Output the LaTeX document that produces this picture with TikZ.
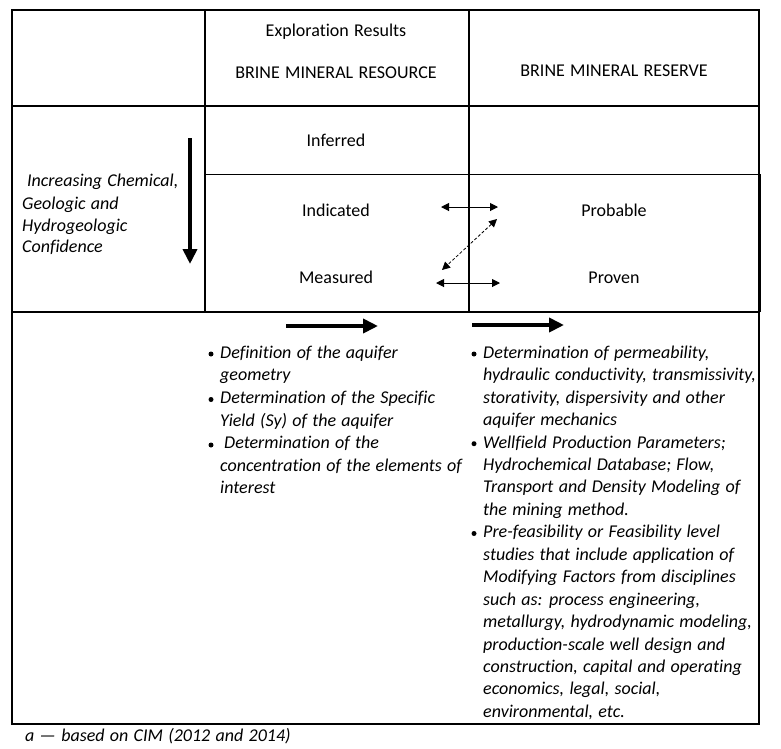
\documentclass[tikz,border=0pt]{standalone}
\usepackage{fontspec}
\setmainfont{Carlito}[Ligatures=CommonOff, WordSpace=1.3]
\usetikzlibrary{arrows.meta,positioning}

\begin{document}
\begin{tikzpicture}[x=1pt, y=-1pt,
  every node/.style={font=\fontsize{18}{22.4}\selectfont, inner sep=0pt},
  head/.style={anchor=base},
  itemtext/.style={anchor=base west, font=\fontsize{18}{22.4}\selectfont\itshape},
  dot/.style={circle, fill=black, minimum size=5pt, inner sep=0pt},
  grid/.style={line width=1.1pt},
  frame/.style={line width=1.9pt},
  bigarrow/.style={-{Triangle[length=15pt,width=14pt]}, line width=4.5pt},
  thinarrow/.style={{Triangle[length=8pt,width=8pt]}-{Triangle[length=8pt,width=8pt]}, line width=1pt},
]

  % page size of the reference
  \useasboundingbox (0,0) rectangle (781,748);

  % table lines
  \draw[grid] (12,10) rectangle (759,312);
  \draw[grid] (205,10) -- (205,312);
  \draw[grid] (469,10) -- (469,312);
  \draw[grid] (12,106) -- (759,106);
  \draw[frame] (205,312) -- (205,174.5) -- (760.5,174.5) -- (760.5,312);
  \draw[grid] (12,312) rectangle (759,724);

  % column heads
  \node[head] (explo) at (336,36.7) {Exploration Results};
  \node[head] (resource) at (336,78.3) {BRINE MINERAL RESOURCE};
  \node[head] (reserve) at (614,76.7) {BRINE MINERAL RESERVE};

  % categories
  \node[head] (inferred) at (336,146.5) {Inferred};
  \node[head] (indicated) at (336,216.5) {Indicated};
  \node[head] (measured) at (336,283.3) {Measured};
  \node[head] (probable) at (614,216.5) {Probable};
  \node[head] (proven) at (614,283.3) {Proven};

  % confidence label and arrow
  \node[itemtext] (conf1) at (27,186.7) {Increasing Chemical,};
  \node[itemtext] (conf2) at (22,209) {Geologic and};
  \node[itemtext] (conf3) at (22,231) {Hydrogeologic};
  \node[itemtext] (conf4) at (22,252.3) {Confidence};
  \coordinate (conftop) at (190,138);
  \coordinate (confbot) at (190,264);
  \draw[bigarrow] (conftop) -- (confbot);

  % links between resource and reserve
  \coordinate (ind-e) at (441,207);
  \coordinate (prob-w) at (498,207);
  \coordinate (meas-e) at (436,283);
  \coordinate (prov-w) at (500,283);
  \coordinate (diag-a) at (497,219);
  \coordinate (diag-b) at (442,270);
  \draw[thinarrow] (ind-e) -- (prob-w);
  \draw[thinarrow] (meas-e) -- (prov-w);
  \draw[thinarrow, line width=0.8pt, dash pattern=on 3pt off 2pt] (diag-a) -- (diag-b);

  % progression arrows
  \coordinate (resarr-a) at (286,326);
  \coordinate (resarr-b) at (378,326);
  \coordinate (rsvarr-a) at (472,325);
  \coordinate (rsvarr-b) at (564,325);
  \draw[bigarrow] (resarr-a) -- (resarr-b);
  \draw[bigarrow] (rsvarr-a) -- (rsvarr-b);

  % resource bullets
  \node[dot] (resb1) at (211,354) {};
  \node[dot] (resb2) at (211,399.5) {};
  \node[dot] (resb3) at (211,445) {};
  \foreach \txt [count=\i] in {{Definition of the aquifer}, {geometry},
      {Determination of the Specific}, {Yield (Sy) of the aquifer},
      {\hspace{4pt}Determination of the}, {concentration of the elements of},
      {interest}}
    \node[itemtext] (res\i) at (220,{358.3+22.6*(\i-1)}) {\txt};

  % reserve bullets
  \node[dot] (rsvb1) at (474,354) {};
  \node[dot] (rsvb2) at (474,443.7) {};
  \node[dot] (rsvb3) at (474,533.5) {};
  \foreach \txt [count=\i] in {{Determination of permeability,},
      {hydraulic conductivity, transmissivity,},
      {storativity, dispersivity and other}, {aquifer mechanics},
      {Wellfield Production Parameters;}, {Hydrochemical Database; Flow,},
      {Transport and Density Modeling of}, {the mining method.},
      {Pre-feasibility or Feasibility level},
      {studies that include application of},
      {Modifying Factors from disciplines}, {such as: process engineering,},
      {metallurgy, hydrodynamic modeling,},
      {production-scale well design and},
      {construction, capital and operating}, {economics, legal, social,},
      {environmental, etc.}}
    \node[itemtext] (rsv\i) at (483,{358.3+22.44*(\i-1)}) {\txt};

  % source note
  \node[itemtext] (note) at (25,741.7) {a — based on CIM (2012 and 2014)};

\end{tikzpicture}
\end{document}
